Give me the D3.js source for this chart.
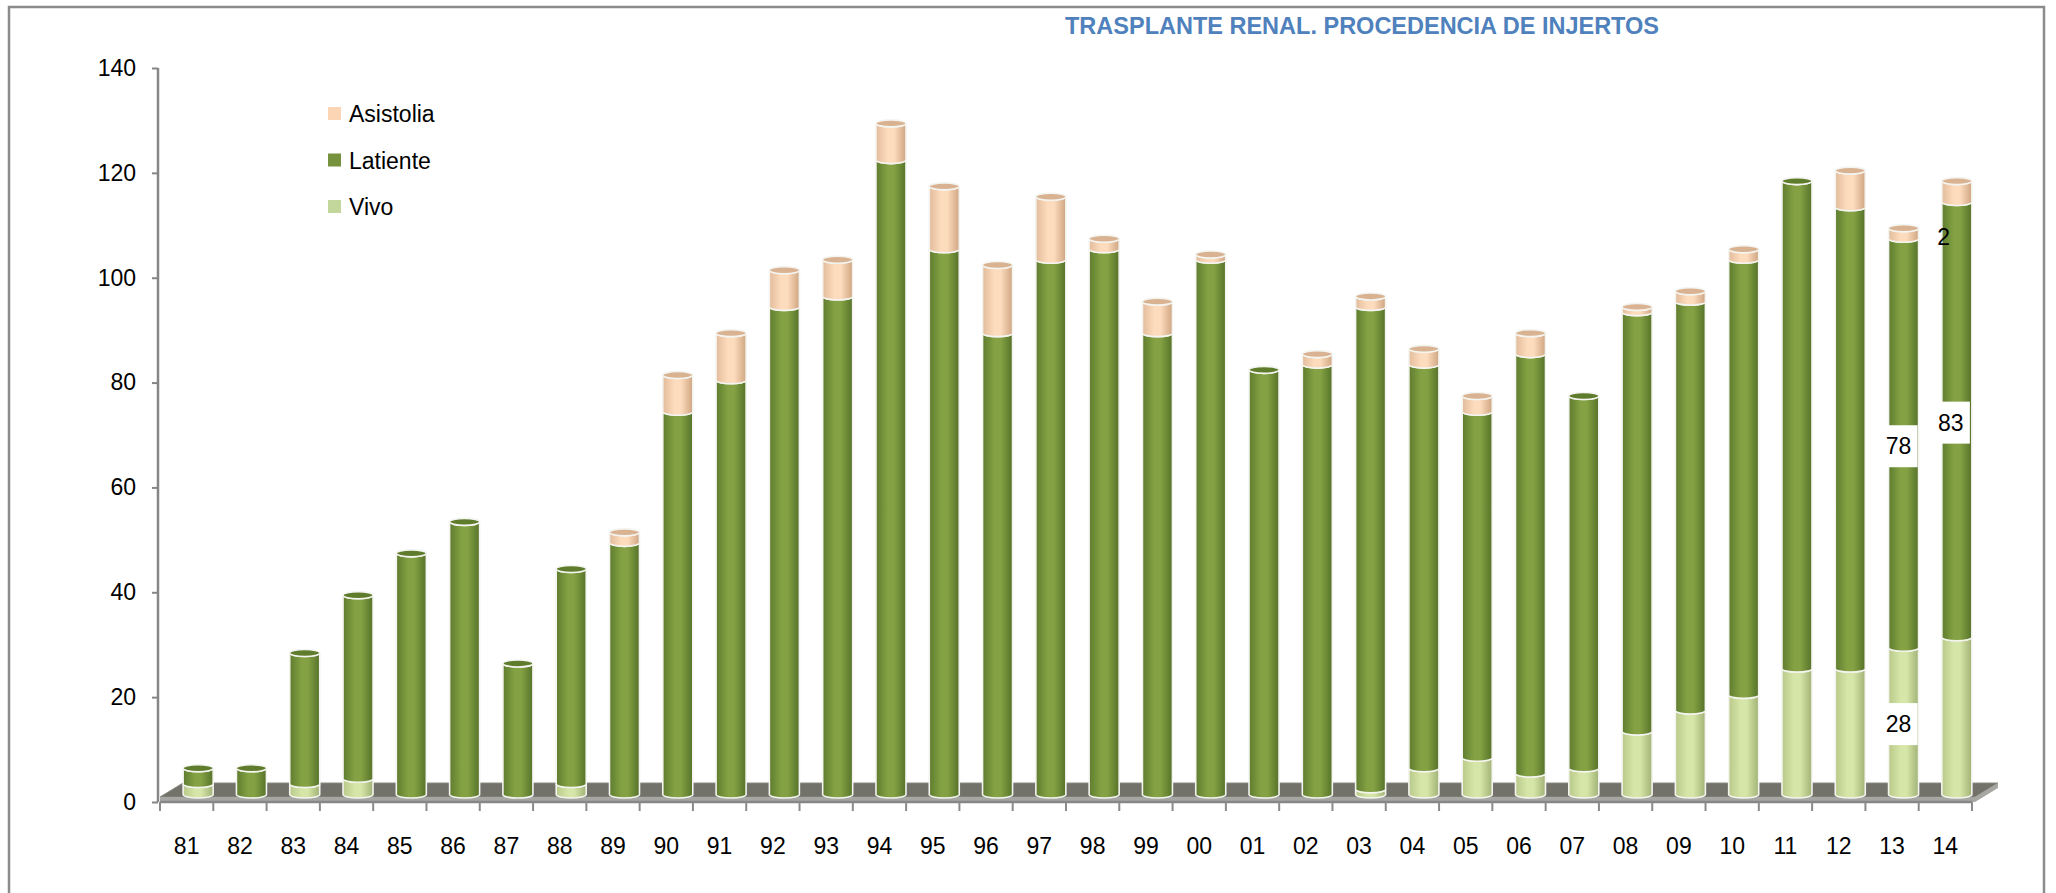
<!DOCTYPE html>
<html>
<head>
<meta charset="utf-8">
<script src="https://cdnjs.cloudflare.com/ajax/libs/d3/7.8.5/d3.min.js"></script>
<style>
    html, body { margin: 0; padding: 0; background: #fff; }
    svg { display: block; font-family: "Liberation Sans", Arial, sans-serif; }
</style>
</head>
<body>
<div id="chart"></div>
<script>
// data
let years = ["81", "82", "83", "84", "85", "86", "87", "88", "89", "90", "91", "92", "93", "94", "95", "96", "97",
    "98", "99", "00", "01", "02", "03", "04", "05", "06", "07", "08", "09", "10", "11", "12", "13", "14"];
let vivo = [2, 0, 2, 3, 0, 0, 0, 2, 0, 0, 0, 0, 0, 0, 0, 0, 0,
    0, 0, 0, 0, 0, 1, 5, 7, 4, 5, 12, 16, 19, 24, 24, 28, 30];
let latiente = [3, 5, 25, 35, 46, 52, 25, 41, 48, 73, 79, 93, 95, 121, 104, 88, 102,
    104, 88, 102, 81, 82, 92, 77, 66, 80, 71, 80, 78, 83, 93, 88, 78, 83];
let asistolia = [0, 0, 0, 0, 0, 0, 0, 0, 2, 7, 9, 7, 7, 7, 12, 13, 12,
    2, 6, 1, 0, 2, 2, 3, 3, 4, 0, 1, 2, 2, 0, 7, 2, 4];
let seriesNames = ["Vivo", "Latiente", "Asistolia"];
let yTicks = [0, 20, 40, 60, 80, 100, 120, 140];
// data labels shown in the original (year, series, shift in x, white box?)
let labels = [
    { year: "13", series: "Vivo", dx: -5, box: true },
    { year: "13", series: "Latiente", dx: -5, box: true },
    { year: "13", series: "Asistolia", dx: 40, box: false },
    { year: "14", series: "Latiente", dx: -6, box: true }
];

let width = 2056, height = 893;
let depthX = 11.5, depthY = 7.5;   // bars stand in the middle of the 3d floor
let rx = 15, ry = 3.5;

let colors = {
    Vivo: { dark: "#a2b276", light: "#d5e6a8", edge: "#b9c98a", top: "#c6d89a" },
    Latiente: { dark: "#56722a", light: "#84a243", edge: "#5e7c2e", top: "#5f7c2c" },
    Asistolia: { dark: "#cfa582", light: "#fddcbd", edge: "#e2bc9c", top: "#d9b291" }
};

let svg = d3.select("#chart").append("svg")
    .attr("width", width)
    .attr("height", height);

// gradients for the cylinders
let defs = svg.append("defs");
seriesNames.forEach(s => {
    let g = defs.append("linearGradient")
        .attr("id", "grad-" + s)
        .attr("x1", 0).attr("x2", 1).attr("y1", 0).attr("y2", 0);
    g.append("stop").attr("offset", "0%").attr("stop-color", colors[s].edge);
    g.append("stop").attr("offset", "40%").attr("stop-color", colors[s].light);
    g.append("stop").attr("offset", "60%").attr("stop-color", colors[s].light);
    g.append("stop").attr("offset", "100%").attr("stop-color", colors[s].dark);
});

// frame
svg.append("rect")
    .attr("x", 9).attr("y", 7)
    .attr("width", 2035).attr("height", 920)
    .attr("fill", "none")
    .attr("stroke", "#8c8c8c")
    .attr("stroke-width", 2.5);

// title
svg.append("text")
    .attr("x", 1362).attr("y", 34)
    .attr("text-anchor", "middle")
    .attr("font-size", 24)
    .attr("font-weight", "bold")
    .attr("fill", "#4f81bd")
    .attr("textLength", 594)
    .attr("lengthAdjust", "spacingAndGlyphs")
    .text("TRASPLANTE RENAL. PROCEDENCIA DE INJERTOS");

let x = d3.scaleBand()
    .domain(years)
    .range([160, 1972])
    .padding(0);

let y = d3.scaleLinear()
    .domain([0, 140])
    .range([802, 68]);

// floor of the 3d plot
let fx0 = 160, fx1 = 1975;
svg.append("polygon")
    .attr("points", [[fx0, 797], [fx1, 797], [fx1 + 23, 783], [fx0 + 23, 783]].join(" "))
    .attr("fill", "#72726a")
    .attr("stroke", "#8a8a84")
    .attr("stroke-width", 1);
svg.append("polygon")
    .attr("points", [[fx0, 797], [fx1, 797], [fx1, 802], [fx0, 802]].join(" "))
    .attr("fill", "#a6a6a2");
svg.append("polygon")
    .attr("points", [[fx1, 797], [fx1 + 23, 783], [fx1 + 23, 788], [fx1, 802]].join(" "))
    .attr("fill", "#a6a6a2");

// axes
let yAxis = d3.axisLeft(y).tickValues(yTicks).tickSize(6).tickPadding(16);
let yAxisGroup = svg.append("g")
    .attr("class", "y-axis")
    .attr("transform", "translate(158,0)")
    .call(yAxis);

let xAxis = d3.axisBottom(x).tickSize(0).tickPadding(36);
let xAxisGroup = svg.append("g")
    .attr("class", "x-axis")
    .attr("transform", "translate(0,802)")
    .call(xAxis);

// tick marks sit on category edges
xAxisGroup.selectAll(".edge-tick")
    .data(years.concat(["end"]))
    .join("line")
    .attr("class", "edge-tick")
    .attr("x1", (d, i) => 160 + i * x.bandwidth())
    .attr("x2", (d, i) => 160 + i * x.bandwidth())
    .attr("y1", 0).attr("y2", 9)
    .attr("stroke", "#8a8a8a")
    .attr("stroke-width", 2);

[yAxisGroup, xAxisGroup].forEach(g => {
    g.selectAll(".domain").attr("stroke", "#868686").attr("stroke-width", 2.5);
    g.selectAll(".tick line").attr("stroke", "#868686").attr("stroke-width", 2);
    g.selectAll("text")
        .attr("font-size", 23)
        .attr("fill", "#000")
        .attr("font-family", "'Liberation Sans', Arial, sans-serif");
});
yAxisGroup.select(".domain").attr("d", "M0,68V802");
xAxisGroup.select(".domain").attr("d", "M160,0H1972");

// stacked data
let table = years.map((yr, i) => ({ year: yr, Vivo: vivo[i], Latiente: latiente[i], Asistolia: asistolia[i] }));
let stack = d3.stack().keys(seriesNames)(table);

let segments = [];
stack.forEach(layer => {
    layer.forEach((d, i) => {
        if (d[1] - d[0] > 0) {
            segments.push({ series: layer.key, year: years[i], y0: d[0], y1: d[1] });
        }
    });
});

let cx = yr => x(yr) + x.bandwidth() / 2 + depthX;
let py = v => y(v) - depthY;

function cylPath(d) {
    let c = cx(d.year), yb = py(d.y0), yt = py(d.y1);
    return `M${c - rx},${yt} L${c - rx},${yb} A${rx},${ry} 0 0 0 ${c + rx},${yb} ` +
        `L${c + rx},${yt} A${rx},${ry} 0 0 1 ${c - rx},${yt} Z`;
}

let bars = svg.append("g").attr("class", "bars");

years.forEach(yr => {
    let segs = segments.filter(s => s.year === yr);
    let g = bars.append("g");
    g.selectAll("path")
        .data(segs)
        .join("path")
        .attr("d", cylPath)
        .attr("fill", d => `url(#grad-${d.series})`)
        .attr("stroke", "#f4f4f0")
        .attr("stroke-width", 1.6);

    let topSeg = segs[segs.length - 1];
    if (topSeg) {
        g.append("ellipse")
            .attr("cx", cx(yr))
            .attr("cy", py(topSeg.y1))
            .attr("rx", rx)
            .attr("ry", ry)
            .attr("fill", colors[topSeg.series].top)
            .attr("stroke", "#f4f4f0")
            .attr("stroke-width", 1.6);
    }
});

// data labels
let labelGroup = svg.append("g").attr("class", "data-labels");
labels.forEach(l => {
    let seg = segments.find(s => s.year === l.year && s.series === l.series);
    let lx = cx(l.year) + l.dx;
    let ly = py((seg.y0 + seg.y1) / 2) + 3;
    let txt = String(seg.y1 - seg.y0);
    if (l.box) {
        labelGroup.append("rect")
            .attr("x", lx - 18).attr("y", ly - 21)
            .attr("width", 37).attr("height", 42)
            .attr("fill", "#fff");
    }
    labelGroup.append("text")
        .attr("x", lx).attr("y", ly)
        .attr("dy", "0.35em")
        .attr("text-anchor", "middle")
        .attr("font-size", 23)
        .text(txt);
});

// legend (top of the stack first)
let legendItems = seriesNames.slice().reverse();
let legend = svg.append("g").attr("class", "legend");
legendItems.forEach((s, i) => {
    let ly = 114 + i * 46.5;
    legend.append("rect")
        .attr("x", 328).attr("y", ly - 7)
        .attr("width", 13).attr("height", 13)
        .attr("fill", s === "Latiente" ? "#76923c" : (s === "Vivo" ? "#c3d69b" : "#fcd5b4"));
    legend.append("text")
        .attr("x", 349).attr("y", ly)
        .attr("dy", "0.35em")
        .attr("font-size", 23)
        .text(s);
});
</script>
</body>
</html>
